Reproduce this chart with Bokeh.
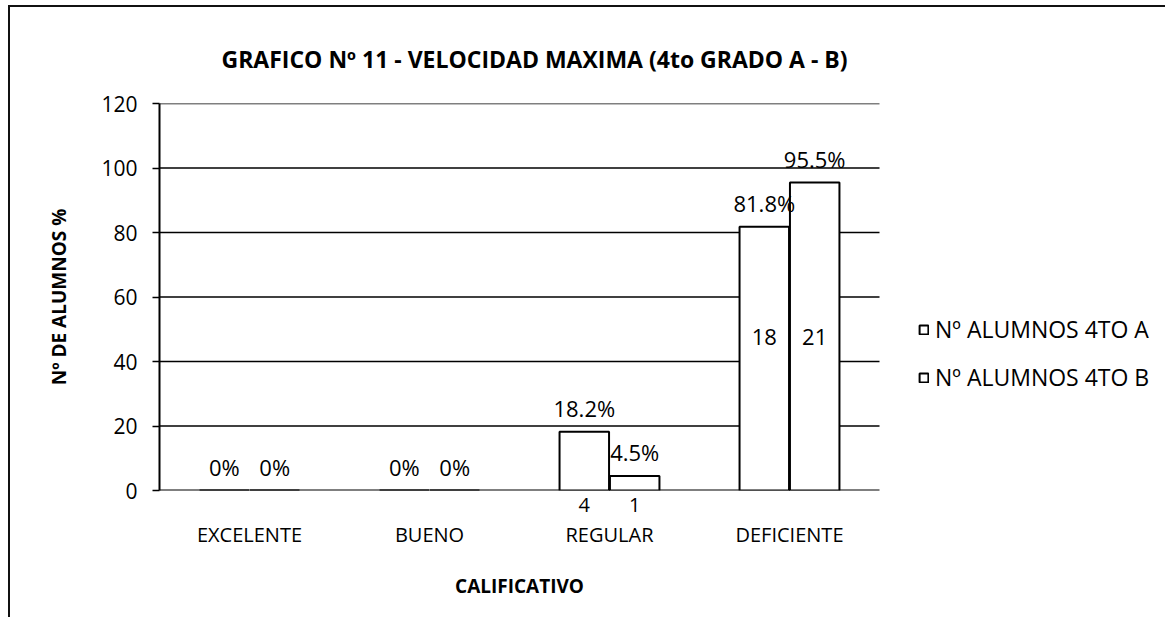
from bokeh.plotting import figure
from bokeh.models import (ColumnDataSource, Range1d, FixedTicker,
                          Legend, LegendItem, LinearAxis)
from bokeh.core.properties import value
from bokeh.embed import file_html
from bokeh.resources import INLINE

# ---- data ----
categories = ["EXCELENTE", "BUENO", "REGULAR", "DEFICIENTE"]
pct_a = [0, 0, 18.2, 81.8]
pct_b = [0, 0, 4.5, 95.5]
n_a = [0, 0, 4, 18]
n_b = [0, 0, 1, 21]
series_names = ["Nº ALUMNOS 4TO A", "Nº ALUMNOS 4TO B"]
y_ticks = [0, 20, 40, 60, 80, 100, 120]
title_text = "GRAFICO Nº 11 - VELOCIDAD MAXIMA (4to GRADO A - B)"
x_title = "CALIFICATIVO"
y_title = "Nº DE ALUMNOS %"

FONT = "Open Sans"
OFF = 0.14
BW = 0.275
FRAME_W = 1000          # frame includes the legend area on the right
PLOT_W = 720            # pixel width used by the four categories

ncat = len(categories)
centers = [i + 0.5 for i in range(ncat)]

p = figure(frame_width=FRAME_W, frame_height=387,
           x_range=Range1d(0, ncat * FRAME_W / PLOT_W),
           y_range=Range1d(0, 120), output_backend="svg", toolbar_location=None,
           x_axis_location=None,
           min_border_left=149, min_border_right=6, min_border_top=96,
           min_border_bottom=127)
p.margin = (5, 0, 0, 8)
p.styles = {"border-left": "2px solid #111", "border-top": "2px solid #111"}
p.outline_line_color = None
p.background_fill_color = "white"
p.border_fill_color = "white"

# title
p.title.text = title_text
p.title.align = "left"
p.title.offset = 62
p.title.standoff = 58
p.title.text_font = FONT
p.title.text_font_size = "23px"
p.title.text_font_style = "bold"
p.title.text_color = "black"

# horizontal grid lines only across the category area
p.segment(x0=[0] * len(y_ticks), x1=[ncat] * len(y_ticks), y0=y_ticks, y1=y_ticks,
          line_color="black", line_width=[2] + [1.5] * (len(y_ticks) - 1))

src_a = ColumnDataSource(dict(x=[c - OFF for c in centers], val=pct_a,
                              lbl=[f"{v:g}%" for v in pct_a]))
src_b = ColumnDataSource(dict(x=[c + OFF for c in centers], val=pct_b,
                              lbl=[f"{v:g}%" for v in pct_b]))

ra = p.vbar(x="x", top="val", width=BW, source=src_a,
            fill_color="white", line_color="black", line_width=2)
rb = p.vbar(x="x", top="val", width=BW, source=src_b,
            fill_color="white", line_color="black", line_width=2)

# percent labels above bars
for src in (src_a, src_b):
    p.text(x="x", y="val", text="lbl", source=src,
           y_offset=-24, text_align="center", text_baseline="middle",
           text_font=value(FONT), text_font_size="22px", text_color="black")

# count labels: inside tall bars, under the axis for short ones
under_pos, under_txt = [], []
for counts, pcts, other, off in ((n_a, pct_a, pct_b, -OFF), (n_b, pct_b, pct_a, OFF)):
    xs, ys, txt = [], [], []
    for c, n, v, w in zip(centers, counts, pcts, other):
        if n == 0:
            continue
        top = max(v, w)
        if top > 50:
            xs.append(c + off)
            ys.append(top / 2.0)
            txt.append(str(n))
        else:
            under_pos.append(round(c + off, 4))
            under_txt.append(str(n))
    s = ColumnDataSource(dict(x=xs, y=ys, t=txt))
    p.text(x="x", y="y", text="t", source=s, text_align="center",
           text_baseline="middle", text_font=value(FONT),
           text_font_size="22px", text_color="black")

count_axis = LinearAxis(ticker=FixedTicker(ticks=under_pos),
                        major_label_overrides=dict(zip(under_pos, under_txt)),
                        major_tick_line_color=None, minor_tick_line_color=None,
                        major_label_standoff=1, major_label_text_font=FONT,
                        major_label_text_font_size="20px",
                        major_label_text_color="black", axis_line_color=None)

cat_axis = LinearAxis(ticker=FixedTicker(ticks=centers),
                      major_label_overrides=dict(zip(centers, categories)),
                      major_tick_line_color=None, minor_tick_line_color=None,
                      axis_line_color=None, major_label_standoff=0,
                      major_label_text_font=FONT, major_label_text_font_size="20px",
                      major_label_text_color="black")

mid = ncat / 2.0
title_axis = LinearAxis(ticker=FixedTicker(ticks=[mid]),
                        major_label_overrides={mid: x_title},
                        major_tick_line_color=None, minor_tick_line_color=None,
                        axis_line_color=None, major_label_standoff=16,
                        major_label_text_font=FONT, major_label_text_font_size="19px",
                        major_label_text_font_style="bold",
                        major_label_text_color="black")
p.add_layout(count_axis, "below")
p.add_layout(cat_axis, "below")
p.add_layout(title_axis, "below")

# y axis
p.yaxis.ticker = FixedTicker(ticks=y_ticks)
p.yaxis.major_label_text_font = FONT
p.yaxis.major_label_text_font_size = "21px"
p.yaxis.major_label_text_color = "black"
p.yaxis.major_tick_out = 7
p.yaxis.major_tick_in = 0
p.yaxis.minor_tick_out = 0
p.yaxis.minor_tick_in = 0
p.yaxis.major_tick_line_color = "black"
p.yaxis.major_tick_line_width = 1.5
p.yaxis.axis_line_color = "black"
p.yaxis.axis_line_width = 2
p.yaxis.major_label_standoff = 15
p.yaxis.axis_label = y_title
p.yaxis.axis_label_text_font = FONT
p.yaxis.axis_label_text_font_size = "19px"
p.yaxis.axis_label_text_font_style = "bold"
p.yaxis.axis_label_text_color = "black"
p.yaxis.axis_label_standoff = 26

p.xgrid.grid_line_color = None
p.ygrid.grid_line_color = None

legend = Legend(items=[LegendItem(label=series_names[0], renderers=[ra]),
                       LegendItem(label=series_names[1], renderers=[rb])],
                location=(759, 97), orientation="vertical",
                padding=0, margin=0, spacing=16, glyph_width=11, glyph_height=11,
                label_standoff=6, label_text_font=FONT, label_text_font_size="23px",
                label_text_color="black", border_line_color=None,
                background_fill_alpha=0)
p.add_layout(legend, "center")

open("out.html", "w").write(file_html(p, INLINE))
